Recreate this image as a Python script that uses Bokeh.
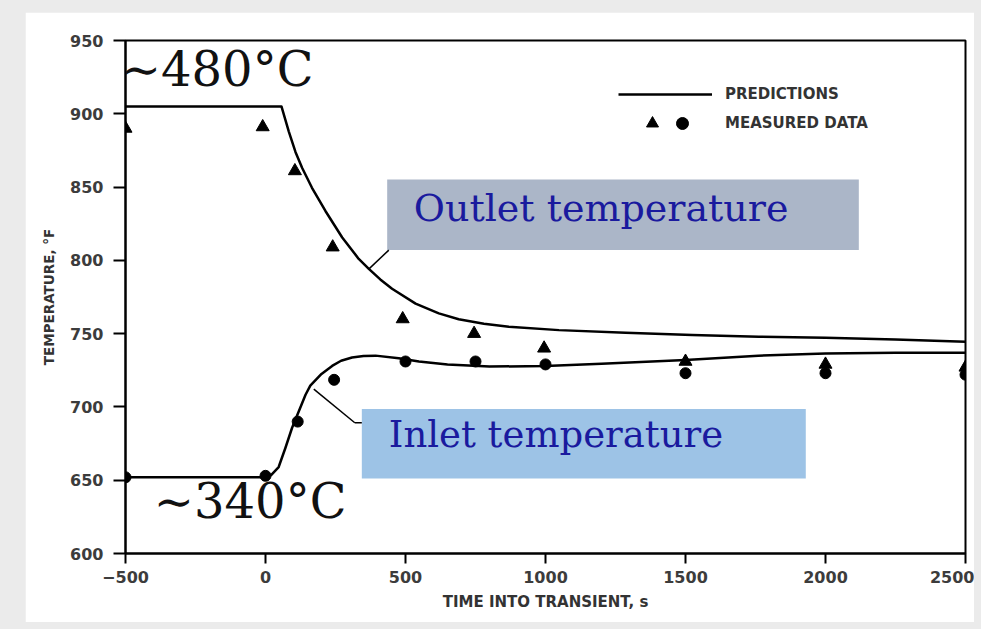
from bokeh.plotting import figure
from bokeh.models import (Range1d, FixedTicker, Label, BoxAnnotation, Arrow,
                          Legend, LegendItem)
from bokeh.layouts import column
from bokeh.embed import file_html
from bokeh.resources import INLINE

# ---------------- data ----------------
t_outlet_pred = [-500, 0, 57, 83, 107, 131, 166, 214, 274, 333, 369, 410, 452,
                 536, 619, 690, 780, 869, 1048, 1286, 1524, 1762, 2000, 2250,
                 2500]
T_outlet_pred = [905, 905, 905, 888, 874, 863, 849.5, 833.7, 815.6, 801, 794.2,
                 787, 780.6, 770.5, 763.8, 759.8, 756.8, 754.7, 752.4, 750.6,
                 749, 747.9, 747.2, 746, 744.5]

t_inlet_pred = [-500, 0, 20, 47, 71, 95, 119, 143, 160, 200, 238, 270, 309,
                350, 393, 476, 548, 650, 800, 1000, 1200, 1500, 1760, 2000,
                2250, 2500]
T_inlet_pred = [652, 652, 653.5, 659, 672, 685.8, 697, 708.3, 714.5, 722.5,
                728, 731.5, 733.7, 734.8, 735, 733.2, 731, 729, 727.5, 728,
                729.5, 732, 735, 736.5, 737, 737]

t_outlet_meas = [-500, -10, 105, 240, 490, 745, 995, 1500, 2000, 2500]
T_outlet_meas = [890, 891, 861, 809, 760, 750, 740, 731, 729, 727]

t_inlet_meas = [-500, 0, 115, 245, 500, 750, 1000, 1500, 2000, 2500]
T_inlet_meas = [652, 653, 690, 718.5, 731, 731, 729, 723, 723, 722]

x_ticks = [-500, 0, 500, 1000, 1500, 2000, 2500]
x_tick_labels = ["\u2212500", "0", "500", "1000", "1500", "2000", "2500"]
y_ticks = [600, 650, 700, 750, 800, 850, 900, 950]

# ---------------- figure ----------------
p = figure(width=949, height=610, output_backend="svg", toolbar_location=None,
           x_range=Range1d(-500, 2500), y_range=Range1d(600, 950),
           min_border_left=100, min_border_right=9, min_border_top=28,
           min_border_bottom=69)
p.margin = (12, 7, 7, 25)
p.background_fill_color = "white"
p.border_fill_color = "white"
p.outline_line_color = "black"
p.outline_line_width = 2
p.xgrid.visible = False
p.ygrid.visible = False

tick_font = "DejaVu Sans"
for ax in (p.xaxis[0], p.yaxis[0]):
    ax.axis_line_width = 2
    ax.axis_line_color = "black"
    ax.major_tick_line_width = 2
    ax.major_tick_line_color = "black"
    ax.major_tick_in = 0
    ax.minor_tick_line_color = None
    ax.major_label_text_font = tick_font
    ax.major_label_text_font_style = "bold"
    ax.major_label_text_font_size = "16px"
    ax.major_label_text_color = "#3c3c3c"
    ax.axis_label_text_font = tick_font
    ax.axis_label_text_font_style = "bold"
    ax.axis_label_text_color = "#333333"

p.xaxis.ticker = FixedTicker(ticks=x_ticks)
p.xaxis.major_label_overrides = {t: l for t, l in zip(x_ticks, x_tick_labels)}
p.yaxis.ticker = FixedTicker(ticks=y_ticks)
p.xaxis.major_tick_out = 10
p.yaxis.major_tick_out = 12
p.xaxis.major_label_standoff = 7
p.yaxis.major_label_standoff = 10
p.xaxis.axis_label = "TIME INTO TRANSIENT, s"
p.yaxis.axis_label = "TEMPERATURE, \u00b0F"
p.xaxis.axis_label_text_font_size = "15px"
p.yaxis.axis_label_text_font_size = "13.5px"
p.xaxis.axis_label_standoff = 7
p.yaxis.axis_label_standoff = 10

# ---------------- annotation boxes (behind text) ----------------
outlet_box = BoxAnnotation(left=434.6, right=2119, bottom=807.0, top=855.1,
                           fill_color="#abb6c8", fill_alpha=1.0,
                           line_color=None, level="underlay")
inlet_box = BoxAnnotation(left=344, right=1929.6, bottom=651.2, top=698.6,
                          fill_color="#9dc3e6", fill_alpha=1.0,
                          line_color=None, level="underlay")
p.add_layout(outlet_box)
p.add_layout(inlet_box)

# ---------------- data glyphs ----------------
l_out = p.line(t_outlet_pred, T_outlet_pred, line_color="black", line_width=2.5,
               line_join="round")
l_in = p.line(t_inlet_pred, T_inlet_pred, line_color="black", line_width=2.5,
              line_join="round")
s_tri = p.scatter(t_outlet_meas, T_outlet_meas, marker="triangle", size=13,
                  fill_color="black", line_color="black")
s_cir = p.scatter(t_inlet_meas, T_inlet_meas, marker="circle", size=11,
                  fill_color="black", line_color="black")

# ---------------- leader lines ----------------
p.add_layout(Arrow(end=None, x_start=369.6, y_start=794.2, x_end=440.4,
                   y_end=807.0, line_color="black", line_width=1.5))
p.add_layout(Arrow(end=None, x_start=172.5, y_start=712.2, x_end=318.9,
                   y_end=689.2, line_color="black", line_width=1.5))
p.add_layout(Arrow(end=None, x_start=318.9, y_start=689.2, x_end=344,
                   y_end=689.2, line_color="black", line_width=1.5))

# ---------------- text labels ----------------
serif = "DejaVu Serif"
p.add_layout(Label(x=-516.8, y=911.4, text="\u223c480\u00b0C", text_font=serif,
                   text_font_size="48px", text_color="#111111"))
p.add_layout(Label(x=-398.9, y=616.9, text="\u223c340\u00b0C", text_font=serif,
                   text_font_size="48px", text_color="#111111"))
p.add_layout(Label(x=529.6, y=820.9, text="Outlet temperature", text_font=serif,
                   text_font_size="38px", text_color="#1a1a9e"))
p.add_layout(Label(x=440.4, y=666.6, text="Inlet temperature", text_font=serif,
                   text_font_size="37px", text_color="#1a1a9e"))

# ---------------- legend ----------------
def make_legend(items, loc, gw, gh, standoff):
    lg = Legend(items=items, location=loc, orientation="vertical",
                glyph_width=gw, glyph_height=gh, label_height=gh,
                label_standoff=standoff, padding=0, margin=0, spacing=0,
                background_fill_alpha=0, border_line_alpha=0,
                label_text_font=tick_font, label_text_font_style="bold",
                label_text_font_size="15px", label_text_color="#333333")
    return lg

p.add_layout(make_legend([LegendItem(label="PREDICTIONS", renderers=[l_out])],
                         (493, 449), 94, 20, 13))
p.add_layout(make_legend([LegendItem(label="MEASURED DATA", renderers=[s_cir])],
                         (542, 415), 30, 30, 28))
p.add_layout(make_legend([LegendItem(label=" ", renderers=[s_tri])],
                         (512, 415), 30, 30, 2))

layout = column(p, styles={"background-color": "#ebebeb"})

open("out.html", "w").write(file_html(layout, INLINE))
